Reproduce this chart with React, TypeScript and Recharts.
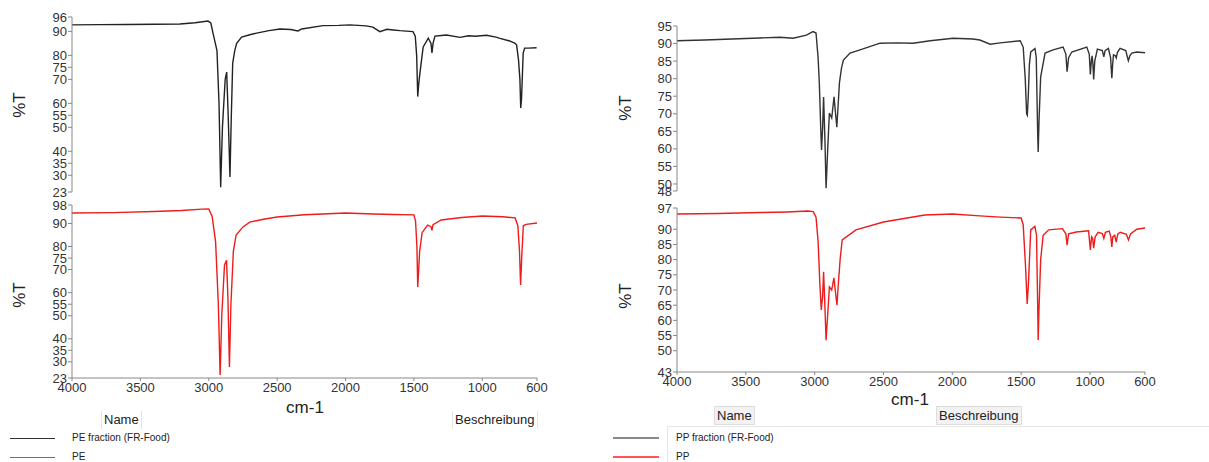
import React from 'react';
import { LineChart, Line, XAxis, YAxis } from 'recharts';

// wavenumbers (cm-1) and %T
const peFracWn = [4000, 3800, 3600, 3400, 3211, 3100, 3006, 2985, 2969, 2940, 2925, 2913, 2900, 2880, 2869, 2858, 2845, 2835, 2825, 2810, 2796, 2760, 2700, 2650, 2560, 2480, 2400, 2348, 2320, 2165, 2050, 1968, 1850, 1800, 1749, 1697, 1650, 1602, 1507, 1490, 1480, 1472, 1465, 1456, 1440, 1432, 1395, 1375, 1368, 1360, 1346, 1300, 1261, 1164, 1100, 1050, 969, 900, 871, 800, 760, 749, 735, 725, 719, 713, 701, 690, 665, 603];
const peFracT = [92.7, 92.8, 92.9, 93.0, 93.1, 93.6, 94.3, 93.5, 89.3, 82, 60, 25, 50, 70, 73, 55, 29.3, 55, 76.8, 82, 85, 87.6, 88.6, 89.3, 90.3, 91, 90.8, 90.2, 91, 92.4, 92.5, 92.7, 92.3, 91.8, 89.9, 90.9, 90.6, 90.3, 89.9, 88, 80, 62.8, 68, 72.6, 80, 83.5, 87.2, 85, 81, 85, 88, 88.3, 88.5, 87.5, 88.2, 88, 88.4, 87.6, 87.1, 86, 85, 84.3, 78, 70, 58, 62, 81, 83, 83, 83.2];

const peWn = [4000, 3700, 3400, 3200, 3050, 3000, 2975, 2950, 2930, 2917, 2905, 2885, 2870, 2860, 2849, 2838, 2820, 2800, 2750, 2700, 2600, 2500, 2300, 2000, 1800, 1650, 1500, 1488, 1478, 1472, 1465, 1458, 1440, 1400, 1375, 1368, 1360, 1300, 1150, 1000, 850, 760, 740, 728, 720, 712, 700, 680, 600];
const peT = [94.5, 94.7, 95.2, 95.6, 96.2, 96.3, 93, 82, 55, 24.3, 50, 72, 74, 58, 27.8, 55, 78, 85, 88.5, 90.6, 91.8, 92.8, 93.8, 94.5, 94.1, 93.9, 93.7, 91, 80, 62.5, 70, 78, 86, 89.3, 88.6, 87, 89.5, 91.5, 92.6, 93.2, 92.9, 92.4, 89, 78, 63.3, 75, 89, 89.6, 90.2];

const ppFracWn = [4000, 3800, 3600, 3400, 3251, 3157, 3060, 3012, 2990, 2975, 2966, 2955, 2950, 2942, 2935, 2925, 2917, 2905, 2893, 2876, 2859, 2848, 2839, 2830, 2820, 2805, 2791, 2743, 2670, 2525, 2400, 2285, 2161, 1994, 1850, 1800, 1725, 1651, 1507, 1485, 1470, 1460, 1455, 1448, 1440, 1430, 1399, 1390, 1380, 1376, 1370, 1358, 1326, 1268, 1195, 1175, 1166, 1155, 1132, 1023, 1005, 997, 990, 984, 978, 973, 965, 946, 910, 899, 890, 866, 850, 841, 835, 829, 815, 809, 800, 781, 740, 721, 710, 696, 660, 600];
const ppFracT = [90.8, 91.0, 91.3, 91.6, 91.8, 91.5, 92.4, 93.4, 93.0, 86, 78.7, 65, 59.7, 66, 74.8, 62, 48.8, 60, 70.2, 68.8, 74.8, 70, 66.2, 72, 78.8, 83, 85.3, 87.3, 88.2, 90.1, 90.2, 90.1, 90.8, 91.5, 91.3, 91.0, 89.8, 90.2, 90.8, 89, 80, 70, 69.6, 75, 84, 87.6, 88.6, 86, 65, 59.1, 68, 80.5, 87.3, 88.2, 89.0, 87, 82, 86, 87.6, 89.0, 87, 81.2, 85, 86.5, 84, 79.8, 85, 88.4, 88, 86.2, 88, 88.6, 86, 80.1, 84, 86.8, 86.5, 85.9, 87.5, 88.6, 88, 85.1, 86.5, 87.3, 87.6, 87.4];

const ppWn = [4000, 3700, 3400, 3200, 3050, 3010, 2990, 2975, 2962, 2952, 2942, 2935, 2925, 2917, 2905, 2893, 2876, 2860, 2848, 2838, 2828, 2815, 2800, 2700, 2500, 2200, 2000, 1800, 1650, 1500, 1485, 1468, 1456, 1447, 1430, 1400, 1388, 1380, 1376, 1370, 1358, 1340, 1300, 1200, 1175, 1166, 1155, 1100, 1010, 997, 988, 980, 973, 962, 940, 910, 899, 888, 860, 848, 841, 834, 820, 809, 798, 780, 735, 720, 705, 660, 600];
const ppT = [95, 95.2, 95.5, 95.7, 96, 95.8, 94, 86, 72, 63.4, 68, 76, 64, 53.5, 62, 71, 70, 74, 69, 65, 72, 80, 86.5, 89.8, 92.4, 94.7, 95, 94.4, 94, 93.7, 91.5, 78, 65.4, 72, 89.8, 91, 88, 66, 53.5, 64, 80, 88, 89.8, 90.2, 88.5, 84.8, 88.5, 89.1, 89.5, 83.2, 87.5, 87, 83.8, 87.5, 89, 88.6, 87, 89, 89.4, 87.5, 84.2, 87.5, 88, 85.8, 88.4, 89, 88.3, 86.5, 88.5, 90, 90.4];

const peFracTicks = [23, 30, 35, 40, 50, 55, 60, 70, 75, 80, 90, 96];
const peTicks = [23, 30, 35, 40, 50, 55, 60, 70, 75, 80, 90, 98];
const ppFracTicks = [48, 50, 55, 60, 65, 70, 75, 80, 85, 90, 95];
const ppTicks = [43, 50, 55, 60, 65, 70, 75, 80, 85, 90, 97];
const wnTicks = [4000, 3500, 3000, 2500, 2000, 1500, 1000, 600];

const zip = (wn: number[], t: number[]) => wn.map((w, i) => ({ w, t: t[i] }));

const font = '"Liberation Sans", Arial, sans-serif';
const tickStyle = { fontSize: 13, fill: '#333', fontFamily: font };

type PanelProps = {
  left: number;
  top: number;
  width: number;
  height: number;
  marginTop: number;
  wn: number[];
  t: number[];
  color: string;
  domain: [number, number];
  ticks: number[];
  showX?: boolean;
};

// plot area = width - 72 (y axis) - 20 (right margin)
const Panel = ({ left, top, width, height, marginTop, wn, t, color, domain, ticks, showX }: PanelProps) => (
  <div style={{ position: 'absolute', left, top }}>
    <LineChart width={width} height={height} data={zip(wn, t)} margin={{ top: marginTop, right: 20, bottom: showX ? 2 : 8, left: 0 }}>
      <XAxis
        dataKey="w"
        type="number"
        domain={[600, 4000]}
        reversed
        ticks={wnTicks}
        interval={0}
        hide={!showX}
        height={30}
        tick={tickStyle}
        tickSize={3}
        tickMargin={2}
        axisLine={{ stroke: '#888' }}
        tickLine={{ stroke: '#888' }}
      />
      <YAxis
        type="number"
        domain={domain}
        ticks={ticks}
        interval={0}
        allowDataOverflow
        width={72}
        tick={tickStyle}
        tickSize={4}
        tickMargin={1}
        axisLine={{ stroke: '#888' }}
        tickLine={{ stroke: '#888' }}
      />
      <Line type="linear" dataKey="t" stroke={color} strokeWidth={1.4} dot={false} isAnimationActive={false} />
    </LineChart>
  </div>
);

const txt = (s: React.CSSProperties): React.CSSProperties => ({ position: 'absolute', fontFamily: font, whiteSpace: 'nowrap', ...s });

const YLabel = ({ x, y }: { x: number; y: number }) => (
  <div style={txt({ left: x, top: y, fontSize: 17, color: '#222', transform: 'translate(-50%, -50%) rotate(-90deg)' })}>%T</div>
);

export default function App() {
  return (
    <div style={{ position: 'absolute', left: 0, top: 0, width: 1209, height: 462, background: '#fff', overflow: 'hidden' }}>
      <Panel left={0} top={0} width={557} height={200} marginTop={17} wn={peFracWn} t={peFracT} color="#222" domain={[23, 96]} ticks={peFracTicks} />
      <Panel left={0} top={195} width={557} height={215} marginTop={10} wn={peWn} t={peT} color="#ee1c1c" domain={[23, 98]} ticks={peTicks} showX />
      <Panel left={605} top={0} width={560} height={199} marginTop={26} wn={ppFracWn} t={ppFracT} color="#333" domain={[48, 95]} ticks={ppFracTicks} />
      <Panel left={605} top={198} width={560} height={206} marginTop={10} wn={ppWn} t={ppT} color="#ee1c1c" domain={[43, 97]} ticks={ppTicks} showX />

      <YLabel x={20} y={105} />
      <YLabel x={20} y={295} />
      <YLabel x={626} y={108} />
      <YLabel x={626} y={296} />

      <div style={txt({ left: 305, top: 408, fontSize: 17, color: '#222', transform: 'translate(-50%, -50%)' })}>cm-1</div>
      <div style={txt({ left: 910, top: 400, fontSize: 17, color: '#222', transform: 'translate(-50%, -50%)' })}>cm-1</div>

      {/* left legend */}
      <div style={txt({ left: 101, top: 411, height: 18, borderLeft: '1px solid #e4e4e4', borderRight: '1px solid #e4e4e4', padding: '0 2px', fontSize: 13, color: '#222', lineHeight: '18px' })}>Name</div>
      <div style={txt({ left: 452, top: 411, height: 18, borderLeft: '1px solid #e4e4e4', borderRight: '1px solid #e4e4e4', padding: '0 2px', fontSize: 13, color: '#222', lineHeight: '18px' })}>Beschreibung</div>
      <div style={{ position: 'absolute', left: 10, top: 438, width: 45, height: 1, background: '#333' }} />
      <div style={{ position: 'absolute', left: 10, top: 457, width: 45, height: 1, background: '#f33' }} />
      <div style={txt({ left: 72, top: 431, fontSize: 10, color: '#222', lineHeight: '14px' })}>PE fraction (FR-Food)</div>
      <div style={txt({ left: 72, top: 450, fontSize: 10, color: '#222', lineHeight: '14px' })}>PE</div>

      {/* right legend */}
      <div style={txt({ left: 714, top: 406, height: 17, border: '1px solid #ddd', background: '#f2f2f2', padding: '0 2px', fontSize: 13, color: '#222', lineHeight: '17px' })}>Name</div>
      <div style={txt({ left: 936, top: 406, height: 17, border: '1px solid #ddd', background: '#f2f2f2', padding: '0 2px', fontSize: 13, color: '#222', lineHeight: '17px' })}>Beschreibung</div>
      <div style={{ position: 'absolute', left: 667, top: 426, width: 542, height: 40, borderTop: '1px solid #e6e6e6', borderLeft: '1px solid #e6e6e6' }} />
      <div style={{ position: 'absolute', left: 613, top: 437, width: 46, height: 2, background: '#888' }} />
      <div style={{ position: 'absolute', left: 613, top: 456, width: 46, height: 2, background: '#f55' }} />
      <div style={txt({ left: 676, top: 431, fontSize: 10, color: '#222', lineHeight: '14px' })}>PP fraction (FR-Food)</div>
      <div style={txt({ left: 676, top: 450, fontSize: 10, color: '#222', lineHeight: '14px' })}>PP</div>
    </div>
  );
}
